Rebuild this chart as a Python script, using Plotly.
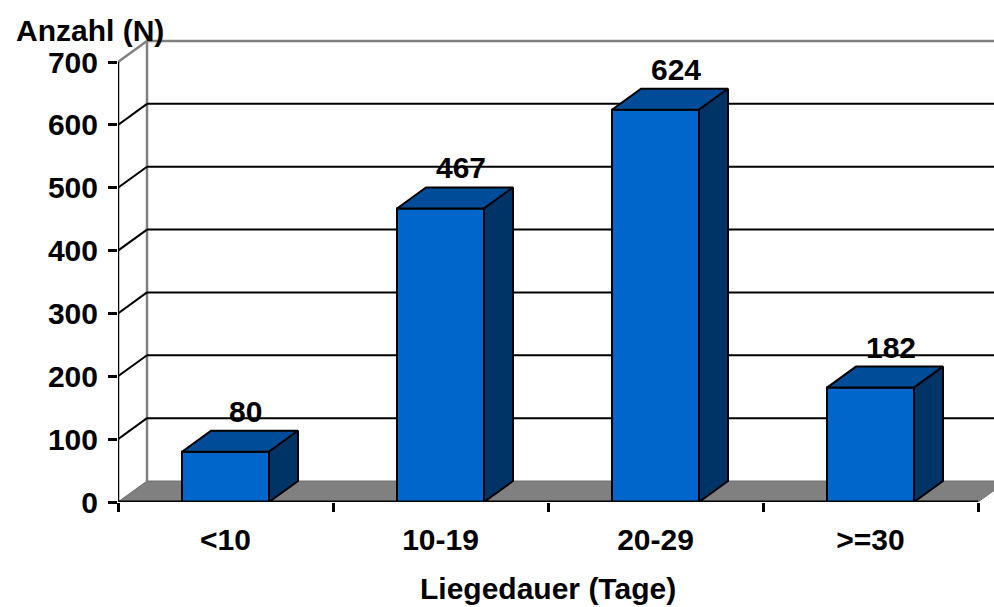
import plotly.graph_objects as go

# Data
categories = ["<10", "10-19", "20-29", ">=30"]
counts = [80, 467, 624, 182]
y_ticks = [0, 100, 200, 300, 400, 500, 600, 700]

# Figure geometry (pixels)
W, H = 994, 607
M_L, M_R, M_T, M_B = 118, 0, 30, 105
CAT_PX = 215.0                 # pixels per category slot
Y_PX = 440.0 / 700.0           # pixels per count unit
DEPTH_DX_PX, DEPTH_DY_PX = 29.0, 21.0

plot_w = W - M_L - M_R
plot_h = H - M_T - M_B
x_max = plot_w / CAT_PX
y_max = plot_h / Y_PX
ddx = DEPTH_DX_PX / CAT_PX     # depth offset in x units
ddy = DEPTH_DY_PX / Y_PX       # depth offset in y units
bar_w = 87.0 / CAT_PX
n = len(categories)
top_val = y_ticks[-1]

FONT = dict(family="Liberation Sans, Arial, sans-serif", size=30, color="black", weight="bold")
FRONT, TOP, SIDE = "#0066CC", "#004C99", "#003366"
GREY = "#808080"

shapes = []

# Floor
shapes.append(dict(
    type="path", layer="below", xref="x", yref="y",
    path=f"M 0 0 L {n} 0 L {n + ddx} {ddy} L {ddx} {ddy} Z",
    fillcolor=GREY, line=dict(color="#6e6e6e", width=1),
))

# Back wall: vertical edge
shapes.append(dict(type="line", layer="below", xref="x", yref="y",
                   x0=ddx, y0=ddy, x1=ddx, y1=top_val + ddy,
                   line=dict(color=GREY, width=2.5)))

# Gridlines on the back wall plus their diagonals on the side wall
for v in y_ticks:
    if v == 0:
        continue
    col = GREY if v == top_val else "black"
    w = 2.5 if v == top_val else 2
    shapes.append(dict(type="line", layer="below", xref="x", yref="y",
                       x0=0, y0=v, x1=ddx, y1=v + ddy, line=dict(color=col, width=w)))
    shapes.append(dict(type="line", layer="below", xref="x", yref="y",
                       x0=ddx, y0=v + ddy, x1=x_max + 1, y1=v + ddy, line=dict(color=col, width=w)))

# Front axis lines
shapes.append(dict(type="line", layer="above", xref="x", yref="y",
                   x0=0, y0=0, x1=0, y1=top_val, line=dict(color="black", width=2.5)))
shapes.append(dict(type="line", layer="above", xref="x", yref="y",
                   x0=0, y0=0, x1=n, y1=0, line=dict(color="black", width=3)))

fig = go.Figure()

# 3D bars: front, top and side faces
for i, v in enumerate(counts):
    x0 = i + 0.5 - bar_w / 2
    x1 = i + 0.5 + bar_w / 2
    faces = [
        ([x0, x1, x1, x0, x0], [0, 0, v, v, 0], FRONT),
        ([x0, x1, x1 + ddx, x0 + ddx, x0], [v, v, v + ddy, v + ddy, v], TOP),
        ([x1, x1 + ddx, x1 + ddx, x1, x1], [0, ddy, v + ddy, v, 0], SIDE),
    ]
    for xs, ys, c in faces:
        fig.add_trace(go.Scatter(
            x=xs, y=ys, mode="lines", fill="toself", fillcolor=c,
            line=dict(color="black", width=2), hoverinfo="skip", showlegend=False,
        ))

annotations = []
# Value labels above each bar
for i, v in enumerate(counts):
    annotations.append(dict(
        x=i + 0.5 + 0.095, y=v + ddy + 31, xref="x", yref="y",
        text=str(v), showarrow=False, font=FONT,
        xanchor="center", yanchor="middle",
    ))

# Axis titles
annotations.append(dict(
    x=2.0, y=-(588 - (H - M_B)) / plot_h, xref="x", yref="paper",
    text="Liegedauer (Tage)", showarrow=False, font=FONT,
    xanchor="center", yanchor="middle",
))
annotations.append(dict(
    x=(90 - M_L) / plot_w, y=((H - M_B) - 31) / plot_h, xref="paper", yref="paper",
    text="Anzahl (N)", showarrow=False, font=FONT,
    xanchor="center", yanchor="middle",
))

fig.update_layout(
    width=W, height=H,
    margin=dict(l=M_L, r=M_R, t=M_T, b=M_B, pad=0),
    paper_bgcolor="white", plot_bgcolor="white",
    shapes=shapes, annotations=annotations,
    showlegend=False,
    xaxis=dict(
        range=[0, x_max], showgrid=False, zeroline=False, showline=False,
        tickvals=[i + 0.5 for i in range(n)], ticktext=categories,
        ticks="", tickfont=FONT, ticklabelstandoff=17,
        minor=dict(tickvals=list(range(n + 1)), ticks="outside", ticklen=9,
                   tickwidth=2.5, tickcolor="black", showgrid=False),
        fixedrange=True,
    ),
    yaxis=dict(
        range=[0, y_max], showgrid=False, zeroline=False, showline=False,
        tickvals=y_ticks, ticks="outside", ticklen=9, tickwidth=2.5, tickcolor="black",
        tickfont=FONT, ticklabelstandoff=4, fixedrange=True,
    ),
)

fig.write_html("out.html")
